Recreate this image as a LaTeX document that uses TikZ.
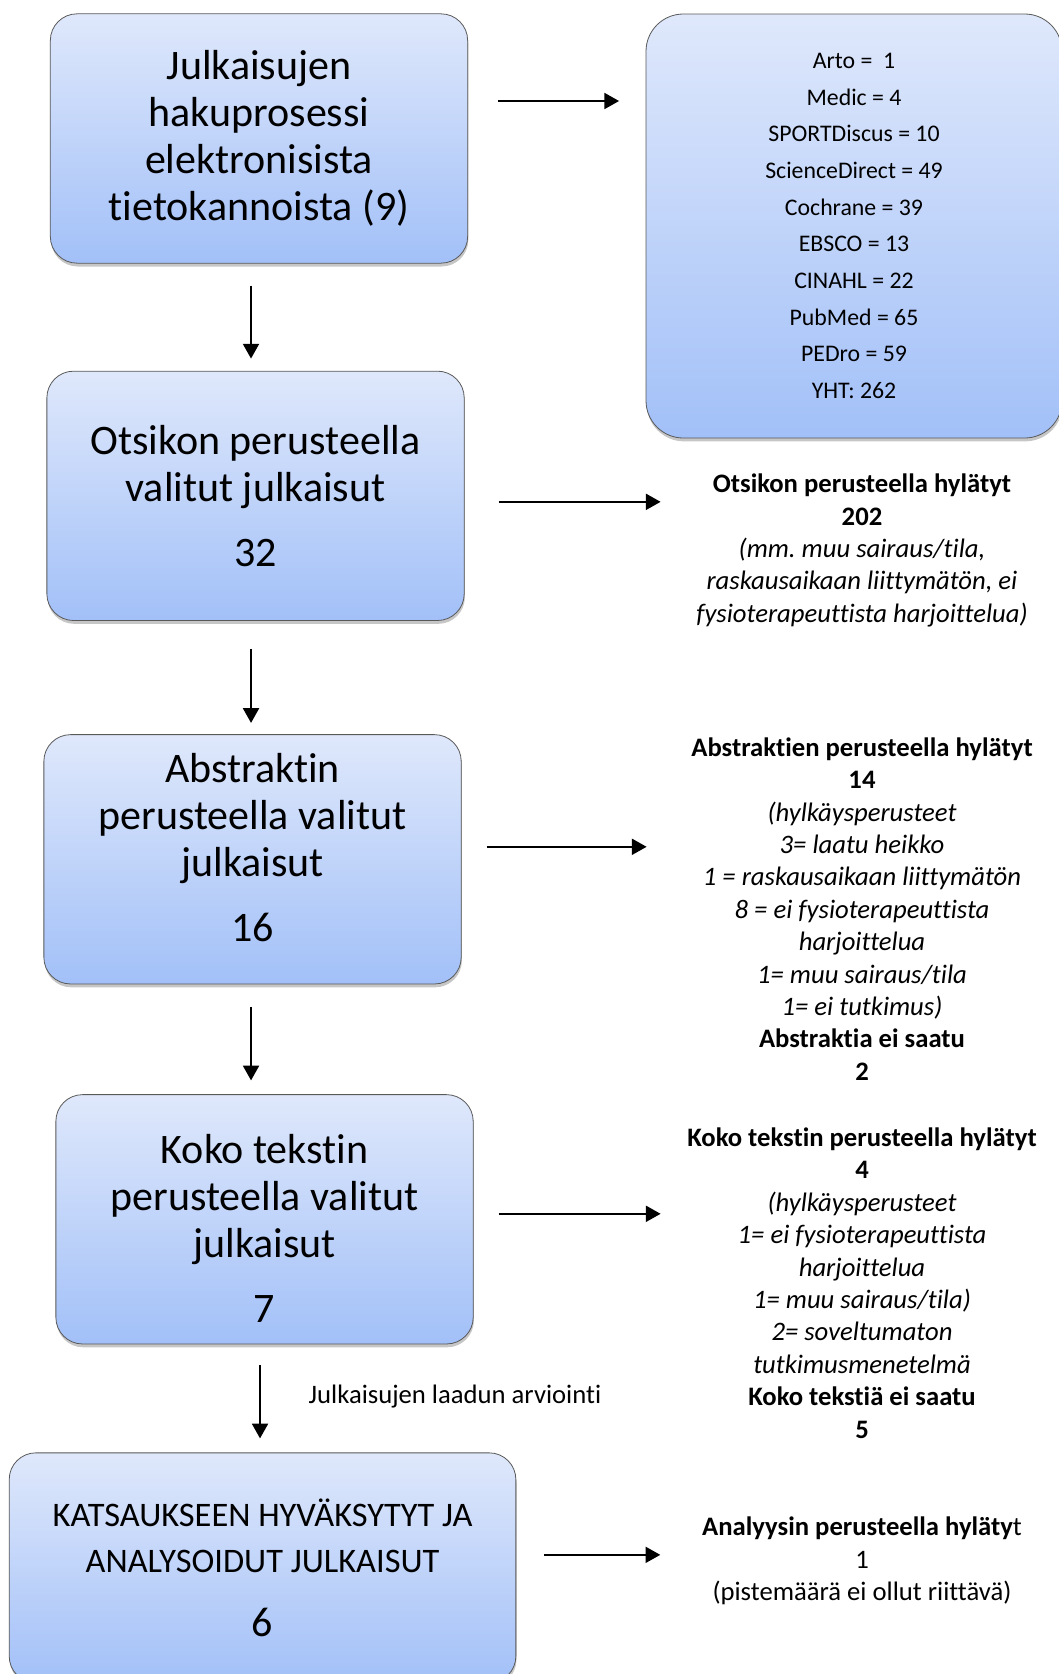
\documentclass[tikz,border=0pt]{standalone}
\usepackage{fontspec}
\setmainfont[Ligatures=NoCommon]{Carlito}
\usetikzlibrary{positioning, arrows.meta, shadows}
\frenchspacing

\definecolor{boxtop}{RGB}{223,232,251}
\definecolor{boxbottom}{RGB}{162,192,248}

\begin{document}
\begin{tikzpicture}
    [
        x=0.75pt, y=-0.75pt, on grid,
        step_box/.style={rectangle, rounded corners=20pt, draw=black!65, line width=0.6pt, top color=boxtop, bottom color=boxbottom, drop shadow={shadow xshift=0.5pt, shadow yshift=-2.5pt, opacity=0.45}, minimum width=313pt, minimum height=187pt, inner sep=0pt, align=center, font=\fontsize{31.5}{35.25}\selectfont},
        db_box/.style={step_box, rounded corners=28pt, minimum width=312pt, minimum height=318pt, font=\fontsize{17.85}{27.5}\selectfont},
        note/.style={align=center, inner sep=0pt, font=\fontsize{20}{24.3}\selectfont},
        flow_arrow/.style={-{Triangle[length=11pt, width=12pt]}, line width=1.3pt},
    ]
        \useasboundingbox (0,0) rectangle (1059,1674);
        % left column
        \node[step_box] (b1) at (259,138.5) {Julkaisujen\\hakuprosessi\\elektronisista\\tietokannoista (9)};
        \node[step_box] (b2) [below=268pt of b1, xshift=-2.6pt] {Otsikon perusteella\\valitut julkaisut\\[13.5pt]32};
        \node[step_box] (b3) [below=272.6pt of b2, xshift=-2.25pt] {Abstraktin\\perusteella valitut\\julkaisut\\[13.5pt]16\rule[-18pt]{0pt}{0pt}};
        \node[step_box] (b4) [below=270pt of b3, xshift=9pt] {\rule{0pt}{35pt}Koko tekstin\\perusteella valitut\\julkaisut\\[13.5pt]7};
        \node[step_box, minimum width=380pt, minimum height=172.5pt, font=\fontsize{25.8}{34.5}\selectfont] (b5) [below=261.4pt of b4, xshift=-1.5pt] {KATSAUKSEEN HYVÄKSYTYT JA\\ANALYSOIDUT JULKAISUT\\[14pt]{\fontsize{31.5}{34.5}\selectfont 6}};
        % right column
        \node[db_box] (db) at (854,226) {Arto =~ 1\\Medic = 4\\SPORTDiscus = 10\\ScienceDirect = 49\\Cochrane = 39\\EBSCO = 13\\CINAHL = 22\\PubMed = 65\\PEDro = 59\\YHT: 262};
        \node[note] (n2) at (862,550.5) {\textbf{Otsikon perusteella hylätyt}\\\textbf{202}\\\textit{(mm. muu sairaus/tila,}\\\textit{raskausaikaan liittymätön, ei}\\\textit{fysioterapeuttista harjoittelua)}};
        \node[note] (n3) at (862,909) {\textbf{Abstraktien perusteella hylätyt}\\\textbf{14}\\\textit{(hylkäysperusteet}\\\textit{3= laatu heikko}\\\textit{1 = raskausaikaan liittymätön}\\\textit{8 = ei fysioterapeuttista}\\\textit{harjoittelua}\\\textit{1= muu sairaus/tila}\\\textit{1= ei tutkimus)}\\\textbf{Abstraktia ei saatu}\\\textbf{2}};
        \node[note] (n4) at (862,1283) {\textbf{Koko tekstin perusteella hylätyt}\\\textbf{4}\\\textit{(hylkäysperusteet}\\\textit{1= ei fysioterapeuttista}\\\textit{harjoittelua}\\\textit{1= muu sairaus/tila)}\\\textit{2= soveltumaton}\\\textit{tutkimusmenetelmä}\\\textbf{Koko tekstiä ei saatu}\\\textbf{5}};
        \node[note] (n5) at (862,1561) {\textbf{Analyysin perusteella hyläty}t\\1\\(pistemäärä ei ollut riittävä)};
        \node[note] (quality) at (455,1397) {Julkaisujen laadun arviointi};
        % arrows
        \draw[flow_arrow] ([shift={(30,-37.5)}]b1.east) -- ++(121,0);
        \draw[flow_arrow] ([shift={(-8,22)}]b1.south) -- ++(0,73);
        \draw[flow_arrow] ([shift={(34,6)}]b2.east) -- ++(162,0);
        \draw[flow_arrow] ([shift={(-4.5,28)}]b2.south) -- ++(0,74);
        \draw[flow_arrow] ([shift={(25,-12.5)}]b3.east) -- ++(160,0);
        \draw[flow_arrow] ([shift={(-1.5,23)}]b3.south) -- ++(0,73);
        \draw[flow_arrow] ([shift={(25,-5.5)}]b4.east) -- ++(162,0);
        \draw[flow_arrow] ([shift={(-4.5,21)}]b4.south) -- ++(0,73);
        \draw[flow_arrow] ([shift={(28,-13)}]b5.east) -- ++(116,0);
\end{tikzpicture}
\end{document}
